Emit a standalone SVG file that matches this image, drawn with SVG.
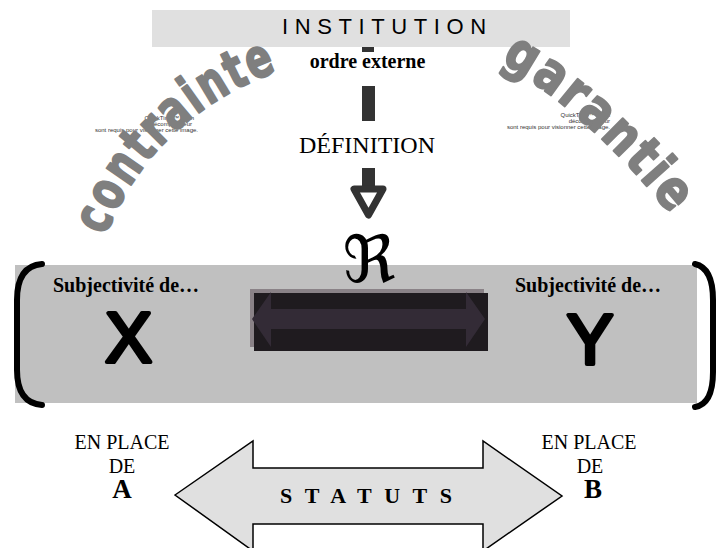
<svg xmlns="http://www.w3.org/2000/svg" width="718" height="548" viewBox="0 0 718 548">
<style>
.serif{font-family:"Liberation Serif","Times New Roman",serif;fill:#000}
.sans{font-family:"Liberation Sans",Arial,sans-serif;fill:#000}
.bold{font-weight:bold}
.wa{font-family:"DejaVu Sans Condensed","Liberation Sans Narrow","DejaVu Sans",sans-serif;font-weight:bold;fill:#7f7f7f;stroke:#7f7f7f;stroke-width:2;stroke-linejoin:round;font-size:54px}
.qt{font-family:"Liberation Sans",Arial,sans-serif;font-size:6px;fill:#333}
.dash{fill:#333}
.brk{fill:none;stroke:#000;stroke-width:6;stroke-linecap:round}
.big{font-family:"Liberation Sans",Arial,sans-serif;font-size:70px;fill:#000;stroke:#000;stroke-width:4;stroke-linejoin:round}
</style>
<defs>
<path id="pc" d="M 104,240 Q 152,112 292,66"/>
<path id="pg" d="M 488,56 Q 585,104 688,236"/>
</defs>
<rect width="718" height="548" fill="#fff"/>
<g id="quicktime-left">
<text class="qt" text-anchor="end"><tspan x="194" y="120">QuickTime™ et un</tspan><tspan x="192" y="126">décompresseur</tspan><tspan x="198" y="132">sont requis pour visionner cette image.</tspan></text>
</g>
<g id="quicktime-right">
<text class="qt" text-anchor="end"><tspan x="610" y="117">QuickTime™ et un</tspan><tspan x="610" y="123">décompresseur</tspan><tspan x="610" y="129">sont requis pour visionner cette image.</tspan></text>
</g>
<g id="institution">
<rect x="152" y="10" width="418" height="37" fill="#e0e0e0"/>
<text class="sans" x="282" y="34" font-size="22" letter-spacing="6.6">INSTITUTION</text>
</g>
<g id="contrainte">
<text class="wa" letter-spacing="3"><textPath href="#pc" startOffset="4" textLength="248" lengthAdjust="spacingAndGlyphs">contrainte</textPath></text>
</g>
<g id="garantie">
<text class="wa" letter-spacing="3"><textPath href="#pg" startOffset="14" textLength="232" lengthAdjust="spacingAndGlyphs">garantie</textPath></text>
</g>
<g id="connectors">
<rect class="dash" x="362" y="47" width="12" height="5"/>
<rect class="dash" x="362" y="86" width="13" height="35"/>
<rect class="dash" x="362" y="168" width="13" height="22"/>
<path d="M 354,189 L 383,189 L 368.5,215 Z" fill="#fff" stroke="#333" stroke-width="7" stroke-linejoin="round"/>
</g>
<g id="ordre-externe">
<text class="serif bold" x="367.5" y="68" font-size="20" text-anchor="middle">ordre externe</text>
</g>
<g id="definition">
<text class="serif" x="367" y="153" font-size="24" text-anchor="middle">DÉFINITION</text>
</g>
<g id="relation">
<rect x="15" y="265" width="682" height="138" fill="#c0c0c0"/>
<path class="brk" d="M 42,264 Q 17,266 17,300 L 17,370 Q 17,403 42,405"/>
<path class="brk" d="M 695,264 Q 713,268 713,300 L 713,372 Q 713,404 695,407"/>
<rect x="250" y="289" width="234" height="58" fill="#8a8287"/>
<rect x="254" y="293" width="234" height="58" fill="#1f1b1f"/>
<path d="M 252,319 L 271,292 L 271,309 L 466,309 L 466,292 L 485,319 L 466,347 L 466,329 L 271,329 L 271,347 Z" fill="#332b36"/>
<text x="369" y="282" font-family="DejaVu Serif,DejaVu Sans,serif" font-size="65" text-anchor="middle" fill="#000">ℜ</text>
<text class="serif bold" x="53" y="292" font-size="20">Subjectivité de…</text>
<text class="serif bold" x="515" y="292" font-size="20">Subjectivité de…</text>
<text class="big" x="128.5" y="362" text-anchor="middle">X</text>
<text class="big" x="590" y="364" text-anchor="middle">Y</text>
</g>
<g id="statuts">
<path d="M 175,495 L 253,441 L 253,468 L 483,468 L 483,441 L 562,496 L 483,551 L 483,524 L 253,524 L 253,551 Z" fill="#e0e0e0" stroke="#000" stroke-width="1.5" stroke-linejoin="miter"/>
<text class="serif bold" x="280" y="503" font-size="22" letter-spacing="12.5">STATUTS</text>
</g>
<g id="place-a">
<text class="serif" x="122" y="449" font-size="20" text-anchor="middle">EN PLACE</text>
<text class="serif" x="122" y="473" font-size="20" text-anchor="middle">DE</text>
<text class="serif bold" x="122" y="498" font-size="27" text-anchor="middle">A</text>
</g>
<g id="place-b">
<text class="serif" x="589" y="449" font-size="20" text-anchor="middle">EN PLACE</text>
<text class="serif" x="590" y="473" font-size="20" text-anchor="middle">DE</text>
<text class="serif bold" x="593" y="498" font-size="27" text-anchor="middle">B</text>
</g>
</svg>
